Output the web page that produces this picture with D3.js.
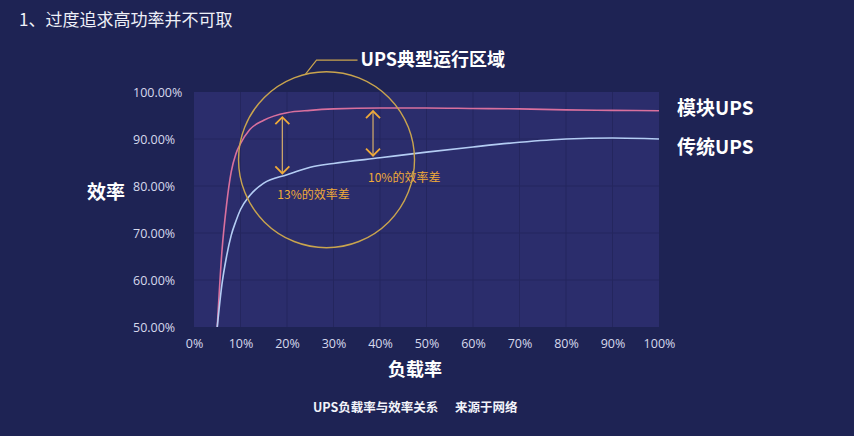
<!DOCTYPE html>
<html>
<head>
<meta charset="utf-8">
<script src="https://cdn.jsdelivr.net/npm/d3@7"></script>
<style>
  html, body { margin: 0; padding: 0; background: #1e2354; }
  svg { display: block; font-family: "Noto Sans CJK SC", "Noto Sans", sans-serif; }
</style>
</head>
<body>
<svg id="chart" width="854" height="436"></svg>
<script>
// load (%) and efficiency (%)
const loads = [5, 6, 7, 8, 9, 10, 12, 15, 20, 25, 30, 40, 50, 60, 70, 80, 90, 100];
const modularUps = [50, 66, 76, 83, 86.8, 89, 92, 94, 95.6, 96.1, 96.4, 96.6, 96.6, 96.5, 96.4, 96.2, 96.1, 96.0];
const legacyUps = [50, 59, 65, 69.5, 72.5, 75, 78, 80.6, 82.4, 84, 84.8, 86, 87.2, 88.3, 89.3, 90, 90.2, 90];
const xTicks = [0, 10, 20, 30, 40, 50, 60, 70, 80, 90, 100];
const yTicks = [50, 60, 70, 80, 90, 100];
const seriesNames = ["模块UPS", "传统UPS"];
const gapLoads = [19, 38.5];
const gapLabels = ["13%的效率差", "10%的效率差"];

const margin = { top: 92, right: 195, bottom: 109, left: 194 };
const width = 854 - margin.left - margin.right;
const height = 436 - margin.top - margin.bottom;

const svg = d3.select("#chart");

svg.append("text")
    .attr("x", 19).attr("y", 26)
    .attr("fill", "#eef0f8")
    .style("font-size", "17px")
    .text("1、过度追求高功率并不可取");

const x = d3.scaleLinear().domain([0, 100]).range([0, width]);
const y = d3.scaleLinear().domain([50, 100]).range([height, 0]);

const g = svg.append("g").attr("transform", `translate(${margin.left},${margin.top})`);

g.append("rect")
    .attr("width", width).attr("height", height)
    .attr("fill", "#2b2d6c");

// grid
g.append("g")
    .selectAll("line")
    .data(xTicks.slice(1, -1))
    .join("line")
    .attr("x1", d => x(d)).attr("x2", d => x(d))
    .attr("y1", 0).attr("y2", height)
    .attr("stroke", "#24265e").attr("stroke-width", 1);

g.append("g")
    .selectAll("line")
    .data(yTicks.slice(1, -1))
    .join("line")
    .attr("x1", 0).attr("x2", width)
    .attr("y1", d => y(d)).attr("y2", d => y(d))
    .attr("stroke", "#24265e").attr("stroke-width", 1);

// axes (labels only)
const xAxis = g.append("g")
    .attr("transform", `translate(0,${height})`)
    .call(d3.axisBottom(x).tickValues(xTicks).tickFormat(d => d + "%").tickSize(0).tickPadding(12));
xAxis.select(".domain").remove();
xAxis.selectAll("text")
    .attr("fill", "#d6d9ec")
    .style("font-size", "12.5px")
    .style("font-family", "'Open Sans', 'Noto Sans', sans-serif");

const yAxis = g.append("g")
    .call(d3.axisLeft(y).tickValues(yTicks).tickFormat(d => d.toFixed(2) + "%").tickSize(0).tickPadding(0));
yAxis.select(".domain").remove();
yAxis.selectAll("text")
    .attr("text-anchor", "start")
    .attr("x", -61)
    .attr("fill", "#d6d9ec")
    .style("font-size", "12.5px")
    .style("font-family", "'Open Sans', 'Noto Sans', sans-serif");

svg.append("text")
    .attr("x", 106).attr("y", 199)
    .attr("text-anchor", "middle")
    .attr("fill", "#ffffff")
    .style("font-size", "19px").style("font-weight", "bold")
    .text("效率");

svg.append("text")
    .attr("x", 415).attr("y", 376)
    .attr("text-anchor", "middle")
    .attr("fill", "#ffffff")
    .style("font-size", "18px").style("font-weight", "bold")
    .text("负载率");

svg.append("text")
    .attr("x", 313).attr("y", 412)
    .attr("fill", "#f2f3fa")
    .style("font-size", "12.5px").style("font-weight", "bold")
    .text("UPS负载率与效率关系");

svg.append("text")
    .attr("x", 455).attr("y", 412)
    .attr("fill", "#f2f3fa")
    .style("font-size", "12.5px").style("font-weight", "bold")
    .text("来源于网络");

// curves
const line = d3.line()
    .x((d, i) => x(loads[i]))
    .y(d => y(d))
    .curve(d3.curveMonotoneX);

g.append("path")
    .datum(modularUps)
    .attr("d", line)
    .attr("fill", "none")
    .attr("stroke", "#d9709e")
    .attr("stroke-width", 1.6);

g.append("path")
    .datum(legacyUps)
    .attr("d", line)
    .attr("fill", "none")
    .attr("stroke", "#b4cdf4")
    .attr("stroke-width", 1.6);

// series labels
svg.selectAll("text.series")
    .data(seriesNames)
    .join("text")
    .attr("class", "series")
    .attr("x", 677)
    .attr("y", (d, i) => 115 + i * 39)
    .attr("fill", "#ffffff")
    .style("font-size", "19px").style("font-weight", "bold")
    .text(d => d);

// efficiency gap arrows
const interp = (arr, v) => {
    const i = d3.bisectRight(loads, v) - 1;
    const t = (v - loads[i]) / (loads[i + 1] - loads[i]);
    return arr[i] + t * (arr[i + 1] - arr[i]);
};
const orange = "#f0aa38";
gapLoads.forEach((ld, k) => {
    const ax = x(ld);
    const top = y(interp(modularUps, ld)) + 3;
    const bot = y(interp(legacyUps, ld)) - 3;
    const a = g.append("g");
    a.append("line")
        .attr("x1", ax).attr("x2", ax).attr("y1", top).attr("y2", bot)
        .attr("stroke", "#c9a46a").attr("stroke-width", 1.3);
    a.append("path")
        .attr("d", `M${ax - 7},${top + 7}L${ax},${top}L${ax + 7},${top + 7}`)
        .attr("fill", "none").attr("stroke", orange).attr("stroke-width", 1.8);
    a.append("path")
        .attr("d", `M${ax - 7},${bot - 7}L${ax},${bot}L${ax + 7},${bot - 7}`)
        .attr("fill", "none").attr("stroke", orange).attr("stroke-width", 1.8);
    a.append("text")
        .attr("x", ax - 5)
        .attr("y", bot + 26)
        .attr("fill", orange)
        .style("font-size", "12px")
        .text(gapLabels[k]);
});

// typical operating region circle
const cx = x(28.5), cy = y(85.6), r = 88;
g.append("circle")
    .attr("cx", cx).attr("cy", cy).attr("r", r)
    .attr("fill", "none")
    .attr("stroke", "#c9a44e")
    .attr("stroke-width", 1.4);

const lx = cx - 21;
const ly = cy - Math.sqrt(r * r - 21 * 21);
g.append("path")
    .attr("d", `M${lx},${ly}L${lx + 11},${ly - 14}L${lx + 52},${ly - 14}`)
    .attr("fill", "none")
    .attr("stroke", "#c9a44e")
    .attr("stroke-width", 1.2);

g.append("text")
    .attr("x", lx + 55)
    .attr("y", ly - 8)
    .attr("fill", "#ffffff")
    .style("font-size", "18px").style("font-weight", "bold")
    .text("UPS典型运行区域");
</script>
</body>
</html>
